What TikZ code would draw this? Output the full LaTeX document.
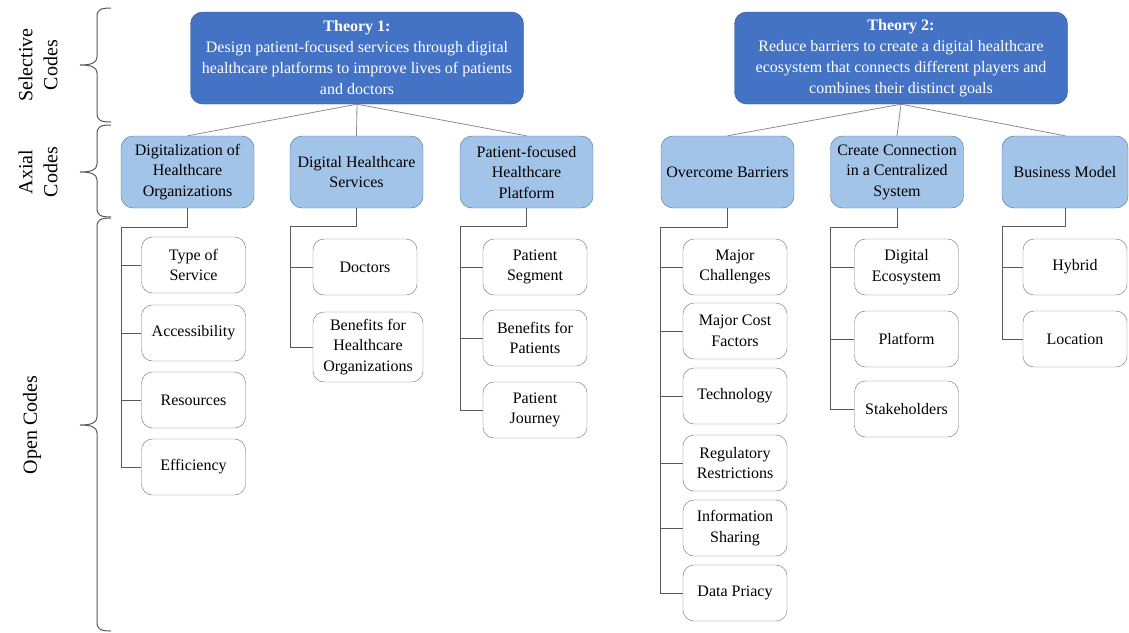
\documentclass[tikz,border=0pt]{standalone}
\usepackage{fontspec}
\setmainfont{Liberation Serif}
\definecolor{theoryfill}{HTML}{4472C4}
\definecolor{theoryedge}{HTML}{2F528F}
\definecolor{axialfill}{HTML}{A2C4E8}
\definecolor{axialedge}{HTML}{4A6F95}
\definecolor{leafedge}{HTML}{707070}
\definecolor{branchgray}{HTML}{595959}
\definecolor{linkgray}{HTML}{8C8C8C}
\tikzset{
  theory/.style={draw=theoryedge, fill=theoryfill, text=white, rounded corners=12pt,
    align=center, inner sep=0pt, minimum width=333pt, minimum height=92pt,
    font=\fontsize{16}{21}\selectfont},
  axial/.style={draw=axialedge, fill=axialfill, rounded corners=12pt, align=center,
    inner sep=0pt, minimum width=133pt, minimum height=72pt},
  opencode/.style={draw=leafedge, fill=white, rounded corners=11pt, align=center,
    inner sep=0pt, minimum width=104pt, minimum height=56pt},
  link/.style={draw=linkgray, line width=0.8pt},
  branch/.style={draw=branchgray, line width=1pt},
  codebrace/.style={draw=branchgray, line width=1pt},
  sidelabel/.style={rotate=90, align=center, font=\fontsize{20}{25}\selectfont}
}
\newcommand{\codebrace}[4]{% x, top, tip, bottom
  \draw[codebrace] (#1+14,#2) .. controls (#1+3,#2) and (#1,#2+2) .. (#1,#2+9)
    -- (#1,#3-8) .. controls (#1,#3-2) and (#1-6,#3) .. (#1-17,#3)
    .. controls (#1-6,#3) and (#1,#3+2) .. (#1,#3+8)
    -- (#1,#4-9) .. controls (#1,#4-2) and (#1+3,#4) .. (#1+14,#4);}
\begin{document}
\begin{tikzpicture}[x=1pt, y=-1pt, font=\fontsize{16}{20.5}\selectfont]
  \useasboundingbox (0,0) rectangle (1129,632);

  \node[sidelabel] (sel) at (38,65) {Selective\\Codes};
  \node[sidelabel] (axl) at (38,172) {Axial\\Codes};
  \node[sidelabel] (opn) at (32,425) {Open Codes};
  \codebrace{97}{8}{65}{122}
  \codebrace{97}{125}{172}{217}
  \codebrace{97}{218}{425}{631}

  \node[theory] (t1) at (357,58) {\textbf{Theory 1:}\\Design patient-focused services through digital\\healthcare platforms to improve lives of patients\\and doctors};
  \node[theory] (t2) at (901,58) {\textbf{Theory 2:}\\Reduce barriers to create a digital healthcare\\ecosystem that connects different players and\\combines their distinct goals};

  \node[axial] (a1) at (187.5,172) {Digitalization of\\Healthcare\\Organizations};
  \node[axial] (a2) at (356.5,172) {Digital Healthcare\\Services};
  \node[axial] (a3) at (526.5,172) {Patient-focused\\Healthcare\\Platform};
  \node[axial] (a4) at (727.5,172) {Overcome Barriers};
  \node[axial] (a5) at (897,172) {Create Connection\\in a Centralized\\System};
  \node[axial, minimum width=126pt] (a6) at (1065,172) {Business Model};

  \foreach \a in {a1,a2,a3} {
    \draw[link] (t1.south) -- (\a.north);
  }
  \foreach \a in {a4,a5,a6} {
    \draw[link] (t2.south) -- (\a.north);
  }

  \node[opencode] (o11) at (193.5,265) {Type of\\Service};
  \node[opencode] (o12) at (193.5,333) {Accessibility};
  \node[opencode] (o13) at (193.5,400) {Resources};
  \node[opencode] (o14) at (193.5,467) {Efficiency};

  \node[opencode] (o21) at (365,267) {Doctors};
  \node[opencode, minimum width=110pt, minimum height=70pt] (o22) at (368,347) {Benefits for\\Healthcare\\Organizations};

  \node[opencode] (o31) at (535,267) {Patient\\Segment};
  \node[opencode] (o32) at (535,338) {Benefits for\\Patients};
  \node[opencode] (o33) at (535,410) {Patient\\Journey};

  \node[opencode] (o41) at (735,267) {Major\\Challenges};
  \node[opencode] (o42) at (735,331) {Major Cost\\Factors};
  \node[opencode] (o43) at (735,396) {Technology};
  \node[opencode] (o44) at (735,463) {Regulatory\\Restrictions};
  \node[opencode] (o45) at (735,528) {Information\\Sharing};
  \node[opencode] (o46) at (735,593) {Data Priacy};

  \node[opencode] (o51) at (906.5,267) {Digital\\Ecosystem};
  \node[opencode] (o52) at (906.5,339) {Platform};
  \node[opencode] (o53) at (906.5,409) {Stakeholders};

  \node[opencode] (o61) at (1075,267) {Hybrid};
  \node[opencode] (o62) at (1075,339) {Location};

  \coordinate (j1) at (121,227);
  \coordinate (j2) at (290,226);
  \coordinate (j3) at (460,226);
  \coordinate (j4) at (660,227);
  \coordinate (j5) at (830,227);
  \coordinate (j6) at (1002,226);

  \draw[branch] (a1.south) |- (j1) |- (o14.west);
  \draw[branch] (a2.south) |- (j2) |- (o22.west);
  \draw[branch] (a3.south) |- (j3) |- (o33.west);
  \draw[branch] (a4.south) |- (j4) |- (o46.west);
  \draw[branch] (a5.south) |- (j5) |- (o53.west);
  \draw[branch] (a6.south) |- (j6) |- (o62.west);

  \foreach \j/\o in {j1/o11,j1/o12,j1/o13,j2/o21,j3/o31,j3/o32,
                     j4/o41,j4/o42,j4/o43,j4/o44,j4/o45,j5/o51,j5/o52,j6/o61} {
    \draw[branch] (\j |- \o.west) -- (\o.west);
  }
\end{tikzpicture}
\end{document}
